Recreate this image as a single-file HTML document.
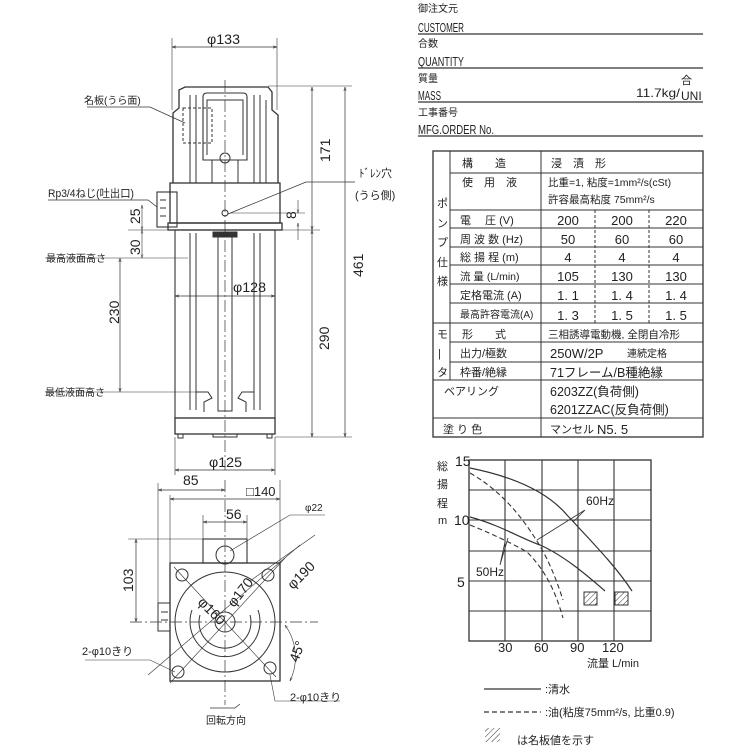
<!DOCTYPE html>
<html><head><meta charset="utf-8"><style>
html,body{margin:0;padding:0;background:#fff;}
svg{display:block;}
text{font-family:"Liberation Sans","Noto Sans CJK JP",sans-serif;fill:#222;}
</style></head><body>
<svg width="750" height="750" viewBox="0 0 750 750" xmlns="http://www.w3.org/2000/svg">
<defs>
<marker id="a" viewBox="0 0 10 10" refX="10" refY="5" markerWidth="6" markerHeight="6" orient="auto-start-reverse"><path d="M0,2 L10,5 L0,8" fill="none" stroke="#333" stroke-width="1.2"/></marker>
<pattern id="h" width="4" height="4" patternUnits="userSpaceOnUse" patternTransform="rotate(45)"><line x1="0" y1="0" x2="0" y2="4" stroke="#333" stroke-width="1"/></pattern>
</defs>
<g stroke="#333" fill="none" stroke-width="1">
<line x1="225" y1="80" x2="225" y2="470" stroke-dasharray="12,3,2,3" stroke-width="0.7"/>
<path d="M173,183 L173,113 L179,108 L179,90 L185,87 L268,87 L272,92 L272,110 L278,115 L278,183" stroke-width="1.3"/>
<rect x="170" y="183" width="110" height="40" stroke-width="1.3"/>
<rect x="168" y="223" width="114" height="7" stroke-width="1.3"/>
<rect x="157" y="192" width="20" height="35" stroke-width="1.1"/>
<line x1="160" y1="200" x2="166" y2="200"/><line x1="160" y1="208" x2="166" y2="208"/><line x1="160" y1="216" x2="166" y2="216"/>
<path d="M203,160 L203,97 Q203,93 207,93 L243,93 Q247,93 247,97 L247,160 Z" stroke-width="1.1"/>
<path d="M207,155 L207,100 L243,100 L243,155"/>
<circle cx="225" cy="158" r="5"/>
<rect x="183" y="108" width="29" height="35" stroke-dasharray="3,2"/>
<line x1="190" y1="95" x2="190" y2="183"/><line x1="196" y1="95" x2="196" y2="183"/><line x1="212" y1="160" x2="212" y2="183"/><line x1="238" y1="160" x2="238" y2="183"/>
<line x1="254" y1="95" x2="254" y2="183"/><line x1="260" y1="95" x2="260" y2="183"/><line x1="266" y1="100" x2="266" y2="183"/>
<circle cx="225" cy="213" r="3"/>
<rect x="175" y="230" width="100" height="188" stroke-width="1.1"/>
<line x1="190" y1="233" x2="190" y2="410"/><line x1="196" y1="233" x2="196" y2="410"/>
<line x1="254" y1="233" x2="254" y2="410"/><line x1="260" y1="233" x2="260" y2="410"/>
<rect x="218" y="236" width="14" height="175"/>
<rect x="213" y="232" width="24" height="5" fill="#333"/>
<path d="M196,392 L208,392 L212,398 L204,402 L204,412"/><path d="M254,392 L242,392 L238,398 L246,402 L246,412"/>
<rect x="175" y="418" width="100" height="16" stroke-width="1.3"/>
<rect x="178" y="434" width="5" height="4"/><rect x="267" y="434" width="5" height="4"/><rect x="213" y="434" width="24" height="3"/>
<line x1="172" y1="38" x2="172" y2="110" stroke-width="0.6"/><line x1="277" y1="38" x2="277" y2="110" stroke-width="0.6"/>
<line x1="172" y1="47" x2="277" y2="47" marker-start="url(#a)" marker-end="url(#a)" stroke-width="0.7"/>
<line x1="268" y1="86" x2="352" y2="86" stroke-width="0.6"/>
<line x1="312" y1="87" x2="312" y2="230" marker-start="url(#a)" marker-end="url(#a)" stroke-width="0.7"/>
<line x1="345" y1="87" x2="345" y2="437" marker-start="url(#a)" marker-end="url(#a)" stroke-width="0.7"/>
<line x1="312" y1="230" x2="312" y2="437" marker-start="url(#a)" marker-end="url(#a)" stroke-width="0.7"/>
<line x1="282" y1="230" x2="320" y2="230" stroke-width="0.6"/><line x1="275" y1="437" x2="352" y2="437" stroke-width="0.6"/>
<line x1="230" y1="213" x2="305" y2="213" stroke-width="0.6"/>
<line x1="298" y1="200" x2="298" y2="213" marker-end="url(#a)" stroke-width="0.6"/><line x1="298" y1="240" x2="298" y2="223" marker-end="url(#a)" stroke-width="0.6"/>
<line x1="128" y1="230" x2="170" y2="230" stroke-width="0.6"/>
<line x1="142" y1="205" x2="142" y2="230" marker-start="url(#a)" marker-end="url(#a)" stroke-width="0.6"/>
<line x1="142" y1="230" x2="142" y2="258" marker-start="url(#a)" marker-end="url(#a)" stroke-width="0.6"/>
<line x1="120" y1="258" x2="120" y2="392" marker-start="url(#a)" marker-end="url(#a)" stroke-width="0.7"/>
<line x1="45" y1="258" x2="188" y2="258" stroke-width="0.6"/><line x1="45" y1="392" x2="196" y2="392" stroke-width="0.6"/>
<line x1="175" y1="296" x2="275" y2="296" marker-start="url(#a)" marker-end="url(#a)" stroke-width="0.7"/>
<line x1="175" y1="437" x2="175" y2="475" stroke-width="0.6"/><line x1="275" y1="437" x2="275" y2="475" stroke-width="0.6"/>
<line x1="175" y1="470" x2="275" y2="470" marker-start="url(#a)" marker-end="url(#a)" stroke-width="0.7"/>
<path d="M87,107 L150,107 L185,123" stroke-width="0.7"/>
<path d="M48,200 L148,200 L157,207" stroke-width="0.7"/>
<path d="M355,182 L306,182 L228,214" stroke-width="0.7"/>
<line x1="158" y1="483" x2="158" y2="603" stroke-width="0.6"/><line x1="170" y1="495" x2="170" y2="563" stroke-width="0.6"/><line x1="280" y1="480" x2="280" y2="563" stroke-width="0.6"/>
<line x1="158" y1="490" x2="225" y2="490" marker-start="url(#a)" marker-end="url(#a)" stroke-width="0.7"/>
<line x1="170" y1="499" x2="280" y2="499" marker-start="url(#a)" marker-end="url(#a)" stroke-width="0.7"/>
<line x1="203" y1="522" x2="247" y2="522" marker-start="url(#a)" marker-end="url(#a)" stroke-width="0.7"/>
<line x1="203" y1="515" x2="203" y2="539" stroke-width="0.6"/><line x1="247" y1="515" x2="247" y2="539" stroke-width="0.6"/>
<line x1="225" y1="480" x2="225" y2="705" stroke-dasharray="12,3,2,3" stroke-width="0.7"/>
<line x1="130" y1="622" x2="318" y2="622" stroke-dasharray="12,3,2,3" stroke-width="0.7"/>
<line x1="128" y1="539" x2="225" y2="539" stroke-width="0.6"/>
<line x1="136" y1="539" x2="136" y2="622" marker-start="url(#a)" marker-end="url(#a)" stroke-width="0.7"/>
<rect x="203" y="539" width="44" height="24" stroke-width="1.1"/>
<circle cx="225" cy="555" r="9"/>
<rect x="170" y="563" width="110" height="118" stroke-width="1.3"/>
<rect x="158" y="603" width="12" height="28"/>
<line x1="161" y1="612" x2="168" y2="612"/><line x1="161" y1="620" x2="168" y2="620"/>
<circle cx="225" cy="622" r="50"/>
<path d="M192,610 A35,35 0 1 0 258,610" />
<path d="M200,615 A26,26 0 1 0 250,615" />
<circle cx="225" cy="622" r="10"/>
<circle cx="182" cy="575" r="6"/><circle cx="268" cy="575" r="6"/><circle cx="178" cy="672" r="6"/><circle cx="270" cy="668" r="6"/>
<line x1="174" y1="567" x2="276" y2="677" stroke-width="0.6"/>
<line x1="170" y1="683" x2="285" y2="558" stroke-width="0.6"/>
<line x1="148" y1="675" x2="300" y2="545" stroke-width="0.6"/>
<line x1="250" y1="581" x2="315" y2="535" stroke-width="0.6"/>
<path d="M230,551 L290,515 L325,515" stroke-width="0.6"/>
<path d="M285,625 A55,55 0 0 1 290,681" stroke-width="0.6" marker-start="url(#a)" marker-end="url(#a)"/>
<path d="M85,660 L150,660 L175,672" stroke-width="0.6"/>
<path d="M340,701 L275,701 L270,675" stroke-width="0.6"/>
<path d="M210,708 L235,708 L240,704" stroke-width="0.8"/>
</g>
<g font-size="13">
<text x="207" y="44" font-size="14" textLength="33" lengthAdjust="spacingAndGlyphs">φ133</text>
<text x="84" y="104" font-size="10">名板(うら面)</text>
<text x="48" y="197" font-size="11" textLength="86" lengthAdjust="spacingAndGlyphs">Rp3/4ねじ(吐出口)</text>
<text x="359" y="177" font-size="11">ﾄﾞﾚﾝ穴</text>
<text x="355" y="199" font-size="11">(うら側)</text>
<text x="46" y="262" font-size="10">最高液面高さ</text>
<text x="45" y="396" font-size="10">最低液面高さ</text>
<text x="233" y="292" font-size="14" textLength="33" lengthAdjust="spacingAndGlyphs">φ128</text>
<text x="209" y="467" font-size="14" textLength="33" lengthAdjust="spacingAndGlyphs">φ125</text>
<text x="183" y="485" font-size="14">85</text>
<text x="246" y="496" font-size="13">□140</text>
<text x="226" y="519" font-size="14">56</text>
<text x="305" y="511" font-size="10">φ22</text>
<text x="82" y="655" font-size="11">2-φ10きり</text>
<text x="290" y="701" font-size="11">2-φ10きり</text>
<text x="206" y="724" font-size="10">回転方向</text>
<g font-size="14">
<text transform="translate(330,162) rotate(-90)">171</text>
<text transform="translate(363,277) rotate(-90)">461</text>
<text transform="translate(329,350) rotate(-90)">290</text>
<text transform="translate(296,219) rotate(-90)">8</text>
<text transform="translate(140,224) rotate(-90)">25</text>
<text transform="translate(140,255) rotate(-90)">30</text>
<text transform="translate(119,324) rotate(-90)">230</text>
<text transform="translate(133,592) rotate(-90)">103</text>
<text transform="translate(197,603) rotate(45)">φ160</text>
<text transform="translate(234,608) rotate(-52)">φ170</text>
<text transform="translate(293,590) rotate(-45)">φ190</text>
<text transform="translate(298,663) rotate(-70)">45°</text>
</g>
</g>
<g font-size="10">
<text x="418" y="12">御注文元</text>
<text x="418" y="32" font-size="13" textLength="46" lengthAdjust="spacingAndGlyphs">CUSTOMER</text>
<text x="418" y="47">合数</text>
<text x="418" y="66" font-size="13" textLength="46" lengthAdjust="spacingAndGlyphs">QUANTITY</text>
<text x="418" y="82">質量</text>
<text x="418" y="100" font-size="13" textLength="23" lengthAdjust="spacingAndGlyphs">MASS</text>
<text x="636" y="97" font-size="12" textLength="44" lengthAdjust="spacingAndGlyphs">11.7kg/</text>
<text x="681" y="84" font-size="11">合</text>
<text x="681" y="100" font-size="12">UNI</text>
<text x="418" y="116">工事番号</text>
<text x="418" y="134" font-size="13" textLength="76" lengthAdjust="spacingAndGlyphs">MFG.ORDER No.</text>
</g>
<g stroke="#333" stroke-width="1.2">
<line x1="418" y1="34" x2="703" y2="34"/><line x1="418" y1="68" x2="703" y2="68"/><line x1="418" y1="102" x2="703" y2="102"/><line x1="418" y1="136" x2="703" y2="136"/>
</g>
<g stroke="#333" fill="none" stroke-width="1">
<rect x="433" y="151" width="270" height="286" stroke-width="1.3"/>
<line x1="450" y1="151" x2="450" y2="380"/>
<line x1="541" y1="151" x2="541" y2="437"/>
<line x1="450" y1="173" x2="703" y2="173"/>
<line x1="450" y1="210" x2="703" y2="210"/>
<line x1="450" y1="228" x2="703" y2="228"/>
<line x1="450" y1="247" x2="703" y2="247"/>
<line x1="450" y1="265" x2="703" y2="265"/>
<line x1="450" y1="284" x2="703" y2="284"/>
<line x1="450" y1="303" x2="703" y2="303"/>
<line x1="433" y1="323" x2="703" y2="323"/>
<line x1="450" y1="342" x2="703" y2="342"/>
<line x1="450" y1="362" x2="703" y2="362"/>
<line x1="433" y1="380" x2="703" y2="380"/>
<line x1="433" y1="418" x2="703" y2="418"/>
<line x1="595" y1="210" x2="595" y2="323" stroke-dasharray="3,2"/>
<line x1="649" y1="210" x2="649" y2="323" stroke-dasharray="3,2"/>
</g>
<g font-size="11">
<text x="462" y="167">構　　造</text><text x="551" y="167">浸　漬　形</text>
<text x="462" y="186">使　用　液</text>
<text x="548" y="186" font-size="10.5">比重=1, 粘度=1mm²/s(cSt)</text>
<text x="548" y="203" font-size="10.5">許容最高粘度 75mm²/s</text>
<text x="437" y="207">ポ</text><text x="437" y="227">ン</text><text x="437" y="246">プ</text><text x="437" y="266">仕</text><text x="437" y="285">様</text>
<text x="460" y="224">電　 圧 (V)</text>
<text x="460" y="243">周 波 数 (Hz)</text>
<text x="460" y="261">総 揚 程 (m)</text>
<text x="460" y="280" font-size="10.5">流 量 (L/min)</text>
<text x="460" y="299">定格電流 (A)</text>
<text x="460" y="318" font-size="10">最高許容電流(A)</text>
<g font-size="13" text-anchor="middle">
<text x="568" y="225">200</text><text x="622" y="225">200</text><text x="676" y="225">220</text>
<text x="568" y="244">50</text><text x="622" y="244">60</text><text x="676" y="244">60</text>
<text x="568" y="262">4</text><text x="622" y="262">4</text><text x="676" y="262">4</text>
<text x="568" y="281">105</text><text x="622" y="281">130</text><text x="676" y="281">130</text>
<text x="568" y="300">1. 1</text><text x="622" y="300">1. 4</text><text x="676" y="300">1. 4</text>
<text x="568" y="320">1. 3</text><text x="622" y="320">1. 5</text><text x="676" y="320">1. 5</text>
</g>
<text x="437" y="338">モ</text><text x="438" y="357">|</text><text x="437" y="376">タ</text>
<text x="462" y="338">形　　式</text><text x="548" y="338" font-size="10.5">三相誘導電動機, 全閉自冷形</text>
<text x="460" y="357">出力/極数</text><text x="550" y="358" font-size="13">250W/2P</text><text x="627" y="357" font-size="10">連続定格</text>
<text x="460" y="376">枠番/絶縁</text><text x="550" y="377" font-size="12.5">71フレーム/B種絶縁</text>
<text x="444" y="395">ベアリング</text>
<text x="550" y="396" font-size="12.5">6203ZZ(負荷側)</text>
<text x="550" y="414" font-size="12.5">6201ZZAC(反負荷側)</text>
<text x="443" y="433">塗 り 色</text><text x="550" y="433">マンセル</text><text x="597" y="434" font-size="13">N5. 5</text>
</g>
<g stroke="#333" fill="none">
<rect x="469" y="460" width="182" height="181" stroke-width="1.3"/>
<g stroke-width="1.1">
<line x1="505" y1="460" x2="505" y2="641"/><line x1="542" y1="460" x2="542" y2="641"/><line x1="578" y1="460" x2="578" y2="641"/><line x1="614" y1="460" x2="614" y2="641"/>
<line x1="469" y1="490" x2="651" y2="490"/><line x1="469" y1="520" x2="651" y2="520"/><line x1="469" y1="551" x2="651" y2="551"/><line x1="469" y1="581" x2="651" y2="581"/><line x1="469" y1="611" x2="651" y2="611"/>
</g>
<path d="M470,468 C520,478 550,495 567,515 C590,540 615,565 632,591" stroke-width="1.2"/>
<path d="M470,517 C500,525 520,538 540,545 C565,556 590,578 605,591" stroke-width="1.2"/>
<path d="M470,473 C500,490 520,515 533,535 C550,560 558,585 563,600" stroke-width="1.1" stroke-dasharray="5,3"/>
<path d="M470,525 C495,535 515,545 527,552 C545,570 555,590 563,618" stroke-width="1.1" stroke-dasharray="5,3"/>
<path d="M585,510 L537,540 M585,510 L573,522" stroke-width="0.8"/>
<path d="M500,565 L508,538 M500,565 L505,542" stroke-width="0.8"/>
<rect x="584" y="592" width="13" height="13" fill="url(#h)"/>
<rect x="615" y="592" width="13" height="13" fill="url(#h)"/>
<line x1="484" y1="689" x2="541" y2="689" stroke-width="1.2"/>
<line x1="484" y1="712" x2="541" y2="712" stroke-width="1.2" stroke-dasharray="5,3"/>
<rect x="485" y="728" width="15" height="14" fill="url(#h)" stroke="none"/>
</g>
<g font-size="12">
<text x="455" y="466" font-size="14">15</text><text x="454" y="525" font-size="14">10</text><text x="457" y="587" font-size="14">5</text>
<text x="437" y="470" font-size="11">総</text><text x="437" y="488" font-size="11">揚</text><text x="437" y="507" font-size="11">程</text><text x="438" y="524" font-size="11">m</text>
<text x="498" y="652" font-size="13">30</text><text x="534" y="652" font-size="13">60</text><text x="570" y="652" font-size="13">90</text><text x="602" y="652" font-size="13">120</text>
<text x="587" y="667" font-size="11">流量 L/min</text>
<text x="586" y="505" font-size="12">60Hz</text>
<text x="476" y="576" font-size="12">50Hz</text>
<text x="545" y="693" font-size="11">:清水</text>
<text x="545" y="716" font-size="11">:油(粘度75mm²/s, 比重0.9)</text>
<text x="517" y="744" font-size="11">は名板値を示す</text>
</g>
</svg>
</body></html>
